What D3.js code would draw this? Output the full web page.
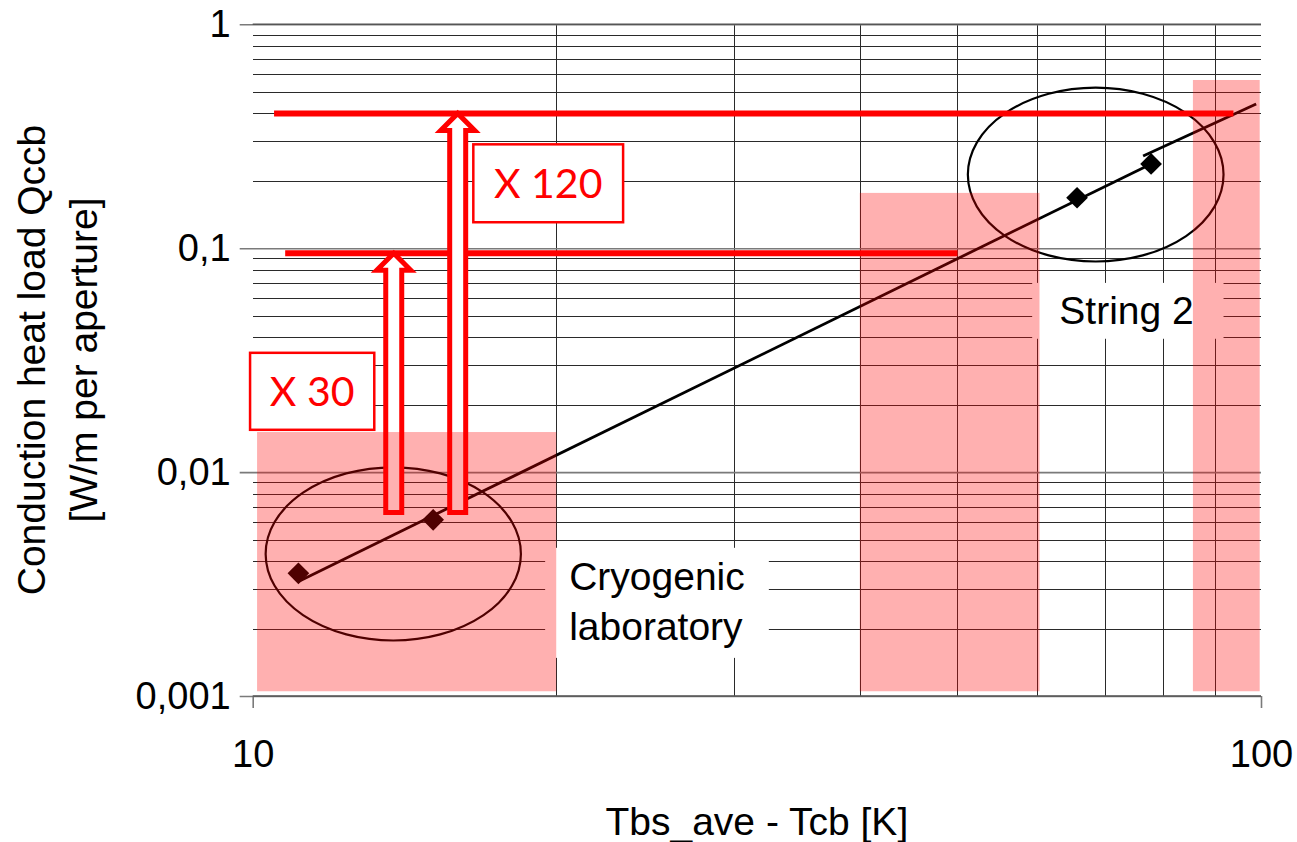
<!DOCTYPE html>
<html lang="en">
<head><meta charset="utf-8">
<title>Conduction heat load vs temperature difference</title>
<style>
body {
  margin: 0;
  background: #ffffff;
}
svg {
  display: block;
  font-family: "Liberation Sans", Arial, sans-serif;
}
.grid line {
  stroke: #2a2a2a;
  stroke-width: 1px;
  shape-rendering: crispEdges;
}
.major line {
  stroke: #7a7a7a;
  stroke-width: 1.6px;
}
.factor text {
  font-family: Lato, "Open Sans", sans-serif;
  fill: #ff0000;
}
</style>
</head>
<body>
<svg></svg>

<script src="https://cdn.jsdelivr.net/npm/d3@7"></script>
<script>

var width = 1297;
var height = 842;

// measured points (x = Tbs_ave - Tcb [K], y = Qccb [W/m per aperture])
var pointT = [11.1, 15.1, 65.7, 77.8];
var pointQ = [0.00353, 0.00612, 0.168, 0.238];

// fitted trend, drawn as two pieces as in the original
var fitT = [[11.09, 77.8], [76.4, 98.9]];
var fitQ = [[0.00324, 0.238], [0.258, 0.4406]];

// axis ticks
var xTicks = [10, 100];
var xTickLabels = ["10", "100"];
var yTicks = [1, 0.1, 0.01, 0.001];
var yTickLabels = ["1", "0,1", "0,01", "0,001"];

// pink temperature bands
var bandT0 = [10.1, 40, 85.6];
var bandT1 = [20, 60.3, 99.7];
var bandTop = [0.0151, 0.1766, 0.564];
var bandBottom = 0.00105;

// red limit lines
var limitQ = [0.4, 0.095];
var limitT0 = [10.5, 10.77];
var limitT1 = [93.9, 50];

// hollow arrows and their factor labels
var arrowT = [13.8, 15.97];
var arrowFromQ = [0.0066, 0.0066];
var arrowToQ = [0.095, 0.4];
var factorText = ["X 30", "X 120"];
var factorT = [[9.94, 13.2], [16.55, 23.3]];
var factorQ = [[0.0341, 0.01545], [0.291, 0.1306]];

// circled groups (bounding boxes)
var ringT = [[10.3, 18.45], [51.2, 91.8]];
var ringQ = [[0.0105, 0.00177], [0.521, 0.0872]];

// text notes with white backing
var noteLines = [["Cryogenic", "laboratory"], ["String 2"]];
var noteT = [20.6, 63.1];
var noteQ = [0.00298, 0.0459];
var noteBoxT = [[19.5, 32.5], [59.3, 91.8]];
var noteBoxQ = [[0.00459, 0.00148], [0.070, 0.0394]];

var x = d3.scaleLog().domain([10, 100]).range([252.7, 1261]);
var y = d3.scaleLog().domain([0.001, 1]).range([696, 24.3]);

var svg = d3.select("svg")
    .attr("width", width)
    .attr("height", height);

svg.append("rect")
    .attr("width", width)
    .attr("height", height)
    .attr("fill", "#ffffff");

// grid lines
var minorQ = [];
[0.001, 0.01, 0.1].forEach(function(dec) {
  for (var k = 2; k <= 9; k++) minorQ.push(dec * k);
});
var minorT = [];
for (var k = 2; k <= 9; k++) minorT.push(10 * k);

var grid = svg.append("g").attr("class", "grid");
grid.selectAll(".h").data(minorQ).enter().append("line")
    .attr("x1", x(10)).attr("x2", x(100))
    .attr("y1", function(d) { return Math.round(y(d)) + 0.5; })
    .attr("y2", function(d) { return Math.round(y(d)) + 0.5; });
grid.selectAll(".v").data(minorT).enter().append("line")
    .attr("x1", function(d) { return Math.round(x(d)) + 0.5; })
    .attr("x2", function(d) { return Math.round(x(d)) + 0.5; })
    .attr("y1", y(1)).attr("y2", y(0.001));

// axes, with outward tick marks, gridlines on major values
var yAxis = d3.axisLeft(y)
    .tickValues(yTicks)
    .tickSize(-(x(100) - x(10)))
    .tickPadding(22)
    .tickFormat(function(d, i) { return yTickLabels[i]; });
var gy = svg.append("g")
    .attr("class", "major")
    .attr("transform", "translate(" + x(10) + ",0)")
    .call(yAxis);
gy.select(".domain").remove();
gy.selectAll(".tick line").attr("x1", -13).attr("stroke", "#7a7a7a");
gy.selectAll(".tick text")
    .attr("font-size", 38)
    .attr("fill", "#000");

var xAxis = d3.axisBottom(x)
    .tickValues(xTicks)
    .tickSize(-(y(0.001) - y(1)))
    .tickPadding(0)
    .tickFormat(function(d, i) { return xTickLabels[i]; });
var gx = svg.append("g")
    .attr("class", "major")
    .attr("transform", "translate(0," + y(0.001) + ")")
    .call(xAxis);
gx.select(".domain").remove();
gx.selectAll(".tick line").attr("y2", 12).attr("stroke", "#7a7a7a");
gx.selectAll(".tick text")
    .attr("font-size", 38)
    .attr("fill", "#000")
    .attr("dy", null)
    .attr("y", 71);

// frame
svg.append("line").attr("x1", x(10)).attr("x2", x(100)).attr("y1", y(1)).attr("y2", y(1))
    .attr("stroke", "#555").attr("stroke-width", 1.6);
svg.append("line").attr("x1", x(10)).attr("x2", x(100)).attr("y1", y(0.001)).attr("y2", y(0.001))
    .attr("stroke", "#555").attr("stroke-width", 1.6);

// white backings of the notes hide the grid
svg.append("g").selectAll("rect").data(noteBoxT).enter().append("rect")
    .attr("x", function(d) { return x(d[0]); })
    .attr("width", function(d) { return x(d[1]) - x(d[0]); })
    .attr("y", function(d, i) { return y(noteBoxQ[i][0]); })
    .attr("height", function(d, i) { return y(noteBoxQ[i][1]) - y(noteBoxQ[i][0]); })
    .attr("fill", "#ffffff");

// trend line
var line = d3.line()
    .x(function(d) { return x(d[0]); })
    .y(function(d) { return y(d[1]); });
svg.append("g").selectAll("path").data(fitT).enter().append("path")
    .attr("d", function(d, i) { return line(d3.zip(d, fitQ[i])); })
    .attr("fill", "none")
    .attr("stroke", "#000")
    .attr("stroke-width", 2.8);

// ellipses round the two groups
svg.append("g").selectAll("ellipse").data(ringT).enter().append("ellipse")
    .attr("cx", function(d) { return (x(d[0]) + x(d[1])) / 2; })
    .attr("cy", function(d, i) { return (y(ringQ[i][0]) + y(ringQ[i][1])) / 2; })
    .attr("rx", function(d) { return (x(d[1]) - x(d[0])) / 2; })
    .attr("ry", function(d, i) { return (y(ringQ[i][1]) - y(ringQ[i][0])) / 2; })
    .attr("fill", "none")
    .attr("stroke", "#000")
    .attr("stroke-width", 2.2);

// diamonds
svg.append("g").selectAll("path").data(pointT).enter().append("path")
    .attr("transform", function(d, i) { return "translate(" + x(d) + "," + y(pointQ[i]) + ")"; })
    .attr("d", d3.symbol(d3.symbolDiamond2, 300))
    .attr("fill", "#000");

// red limits
svg.append("g").selectAll("line").data(limitQ).enter().append("line")
    .attr("x1", function(d, i) { return x(limitT0[i]); })
    .attr("x2", function(d, i) { return x(limitT1[i]); })
    .attr("y1", function(d) { return y(d); })
    .attr("y2", function(d) { return y(d); })
    .attr("stroke", "#ff0000")
    .attr("stroke-width", 6);

// hollow arrows
function arrowPath(cx, yb, yt) {
  var sw = 8, hw = 17, hh = 17;
  return "M" + (cx - sw) + "," + yb +
         "L" + (cx - sw) + "," + (yt + hh) +
         "L" + (cx - hw) + "," + (yt + hh) +
         "L" + cx + "," + yt +
         "L" + (cx + hw) + "," + (yt + hh) +
         "L" + (cx + sw) + "," + (yt + hh) +
         "L" + (cx + sw) + "," + yb + "Z";
}
svg.append("g").selectAll("path").data(arrowT).enter().append("path")
    .attr("d", function(d, i) { return arrowPath(x(d), y(arrowFromQ[i]), y(arrowToQ[i])); })
    .attr("fill", "#ffffff")
    .attr("stroke", "#ff0000")
    .attr("stroke-width", 5)
    .attr("stroke-linejoin", "miter");

// factor labels
var factor = svg.append("g").attr("class", "factor")
    .selectAll("g").data(factorText).enter().append("g");
factor.append("rect")
    .attr("x", function(d, i) { return x(factorT[i][0]); })
    .attr("width", function(d, i) { return x(factorT[i][1]) - x(factorT[i][0]); })
    .attr("y", function(d, i) { return y(factorQ[i][0]); })
    .attr("height", function(d, i) { return y(factorQ[i][1]) - y(factorQ[i][0]); })
    .attr("fill", "#ffffff")
    .attr("stroke", "#ff0000")
    .attr("stroke-width", 2.5);
factor.append("text")
    .attr("x", function(d, i) { return (x(factorT[i][0]) + x(factorT[i][1])) / 2; })
    .attr("y", function(d, i) { return (y(factorQ[i][0]) + y(factorQ[i][1])) / 2 + 15; })
    .attr("text-anchor", "middle")
    .attr("font-size", 41)
    .text(function(d) { return d; });

// translucent pink bands on top
svg.append("g").selectAll("rect").data(bandT0).enter().append("rect")
    .attr("x", function(d) { return x(d); })
    .attr("width", function(d, i) { return x(bandT1[i]) - x(d); })
    .attr("y", function(d, i) { return y(bandTop[i]); })
    .attr("height", function(d, i) { return y(bandBottom) - y(bandTop[i]); })
    .attr("fill", "rgba(255,0,0,0.31)");

// notes
var notes = svg.append("g").selectAll("text").data(noteLines).enter().append("text")
    .attr("x", function(d, i) { return x(noteT[i]); })
    .attr("y", function(d, i) { return y(noteQ[i]); })
    .attr("font-size", 39)
    .attr("fill", "#000");
notes.selectAll("tspan").data(function(d) { return d; }).enter().append("tspan")
    .attr("x", function() { return this.parentNode.getAttribute("x"); })
    .attr("dy", function(d, i) { return i ? 50 : 0; })
    .text(function(d) { return d; });

// axis titles
svg.append("text")
    .attr("x", (x(10) + x(100)) / 2)
    .attr("y", 835)
    .attr("text-anchor", "middle")
    .attr("font-size", 39)
    .text("Tbs_ave - Tcb [K]");

var ytitle = [["Conduction heat load Qccb", 45], ["[W/m per aperture]", 97]];
svg.append("g").selectAll("text").data(ytitle).enter().append("text")
    .attr("transform", function(d) { return "translate(" + d[1] + ",360) rotate(-90)"; })
    .attr("text-anchor", "middle")
    .attr("font-size", 39)
    .text(function(d) { return d[0]; });

</script>
</body>
</html>
